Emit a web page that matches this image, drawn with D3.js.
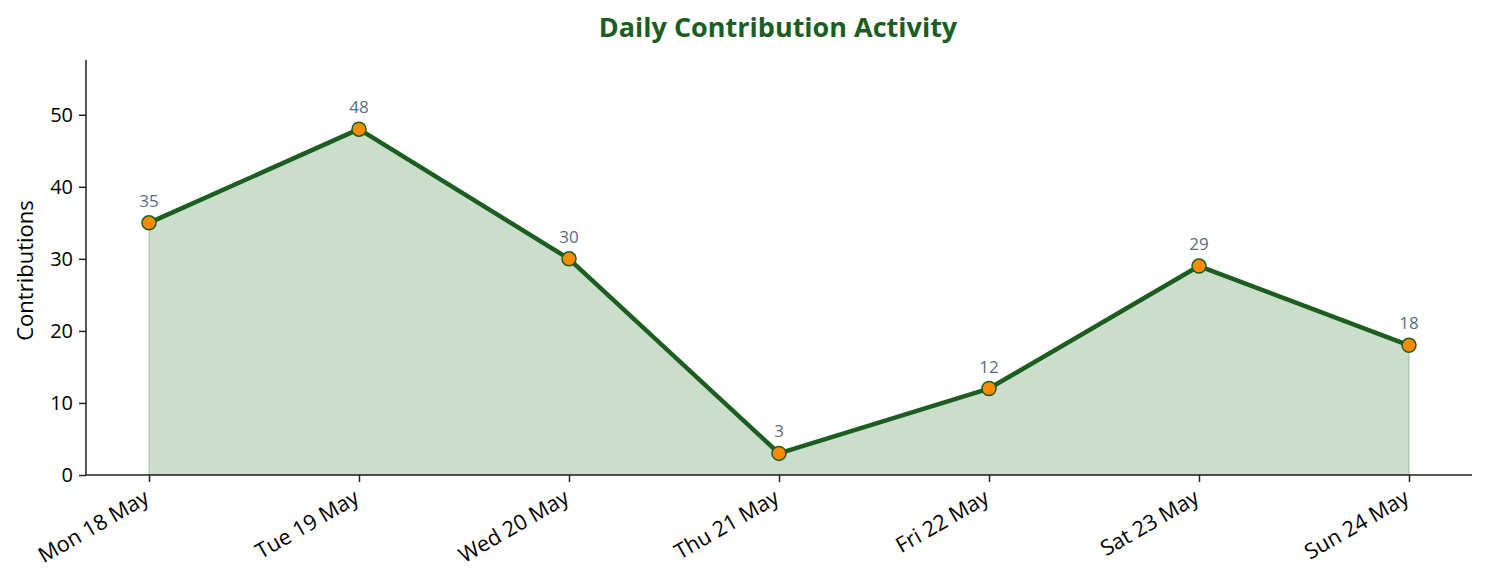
<!DOCTYPE html>
<html>
<head>
<meta charset="utf-8">
<script src="https://cdn.jsdelivr.net/npm/d3@7"></script>
<style>
  body { margin: 0; background: #fff; }
  text { font-family: "Open Sans", "Noto Sans", sans-serif; }
</style>
</head>
<body>
<div id="chart"></div>
<script>
// data for the chart
var days = ["Mon 18 May", "Tue 19 May", "Wed 20 May", "Thu 21 May", "Fri 22 May", "Sat 23 May", "Sun 24 May"];
var contributions = [35, 48, 30, 3, 12, 29, 18];
var yTicks = [0, 10, 20, 30, 40, 50];

var width = 1486, height = 583;
var margin = { left: 86, top: 60, right: 14, bottom: 108 };

var svg = d3.select("#chart").append("svg")
    .attr("width", width)
    .attr("height", height);

// scales
var x = d3.scalePoint().domain(days)
    .range([margin.left, width - margin.right])
    .padding(0.3);
var y = d3.scaleLinear().domain([0, d3.max(contributions) * 1.2])
    .range([height - margin.bottom, margin.top]);

var rows = days.map(function (d, i) { return { day: d, value: contributions[i] }; });

// filled area under the line
var area = d3.area()
    .x(function (d) { return x(d.day); })
    .y0(y(0))
    .y1(function (d) { return y(d.value); });
svg.append("path")
    .datum(rows)
    .attr("d", area)
    .attr("fill", "#2e7d32")
    .attr("fill-opacity", 0.25)
    .attr("stroke", "#2e7d32")
    .attr("stroke-opacity", 0.25)
    .attr("stroke-width", 1.5);

// axes
var xAxis = svg.append("g")
    .attr("transform", "translate(0," + y(0) + ")")
    .call(d3.axisBottom(x).tickSize(7).tickPadding(6));
xAxis.selectAll("text")
    .attr("x", 0)
    .attr("y", 0)
    .attr("dy", "0.75em")
    .attr("transform", "translate(-7,13) rotate(-30)")
    .attr("text-anchor", "end")
    .style("font-size", "21.5px")
    .attr("fill", "#000");

var yAxis = svg.append("g")
    .attr("transform", "translate(" + margin.left + ",0)")
    .call(d3.axisLeft(y).tickValues(yTicks).tickSize(7).tickPadding(6));
yAxis.selectAll("text").style("font-size", "20px").attr("fill", "#000");

svg.selectAll(".domain").attr("stroke", "#222").attr("stroke-width", 1.5);
svg.selectAll(".tick line").attr("stroke", "#222").attr("stroke-width", 1.5);
// remove the little outer ticks of the domain
xAxis.select(".domain").attr("d", "M" + margin.left + ",0H" + (width - margin.right));
yAxis.select(".domain").attr("d", "M0," + y(0) + "V" + margin.top);

// line
var line = d3.line()
    .x(function (d) { return x(d.day); })
    .y(function (d) { return y(d.value); });
svg.append("path")
    .datum(rows)
    .attr("d", line)
    .attr("fill", "none")
    .attr("stroke", "#1b5e20")
    .attr("stroke-width", 4.5)
    .attr("stroke-linejoin", "round");

// markers
svg.selectAll("circle.pt")
    .data(rows)
    .enter()
    .append("circle")
    .attr("class", "pt")
    .attr("cx", function (d) { return x(d.day); })
    .attr("cy", function (d) { return y(d.value); })
    .attr("r", 7)
    .attr("fill", "#ff8c00")
    .attr("stroke", "#1b5e20")
    .attr("stroke-width", 1.5);

// value labels
svg.selectAll("text.val")
    .data(rows)
    .enter()
    .append("text")
    .attr("class", "val")
    .attr("x", function (d) { return x(d.day); })
    .attr("y", function (d) { return y(d.value) - 16; })
    .attr("text-anchor", "middle")
    .attr("fill", "#5a6e7f")
    .style("font-size", "17px")
    .text(function (d) { return d.value; });

// titles
svg.append("text")
    .attr("x", 778)
    .attr("y", 37)
    .attr("text-anchor", "middle")
    .attr("fill", "#1b5e20")
    .style("font-size", "27px")
    .style("font-weight", "bold")
    .text("Daily Contribution Activity");

svg.append("text")
    .attr("transform", "translate(33," + ((y(0) + margin.top) / 2 + 3) + ") rotate(-90)")
    .attr("text-anchor", "middle")
    .attr("fill", "#000")
    .style("font-size", "22px")
    .text("Contributions");
</script>
</body>
</html>
